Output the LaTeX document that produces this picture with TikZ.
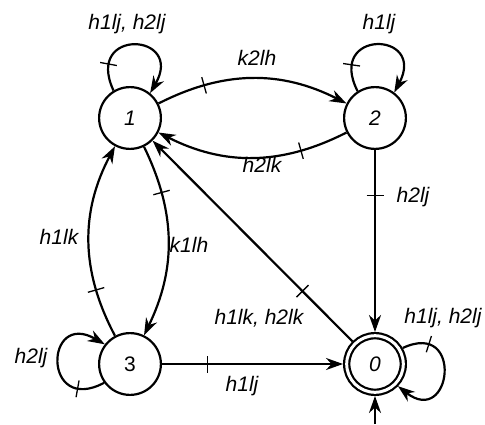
\documentclass[tikz,border=0pt]{standalone}
\usepackage{fontspec}
\setmainfont{Liberation Sans}
\usetikzlibrary{arrows.meta,decorations.markings}
\newcommand\labfont{\fontsize{21}{25}\selectfont\itshape}
\begin{document}
\begin{tikzpicture}[x=1pt,y=1pt,
  st/.style={draw,circle,line width=2.2pt,minimum size=61.8pt,inner sep=0pt,font=\labfont},
  acc/.style={st,double,double distance=3pt,minimum size=56.6pt,outer sep=3.7pt},
  lab/.style={font=\labfont,inner sep=1pt},
  tip/.style={-{Stealth[length=17pt,width=12pt,inset=5.5pt]}},
  edge/.style={line width=2.2pt,tip,
    postaction={decorate},
    decoration={markings,mark=at position #1 with {\draw[line width=1.3pt,-] (0,-8.5pt) -- (0,8.5pt);}}},
  edge/.default=0.25]
\useasboundingbox (0,0) rectangle (485,424);
\node[st] (n1) at (130,306) {1};
\node[st] (n2) at (375,306) {2};
\node[st,font=\fontsize{21}{25}\selectfont] (n3) at (130,60) {3};
\node[acc] (n0) at (375,60) {0};
\coordinate (init) at (375,0);
% edges
\draw[edge] (n1) to[bend left=27] (n2);
\draw[edge] (n2) to[bend left=27] (n1);
\draw[edge] (n1) to[bend left=26] (n3);
\draw[edge] (n3) to[bend left=28] (n1);
\draw[edge] (n2) -- (n0);
\draw[edge] (n0) -- (n1);
\draw[edge] (n3) -- (n0);
\draw[line width=2.2pt,tip] (init) -- (n0);
% loops
\draw[edge=0.22] (n1.121) .. controls +(115:70pt) and +(60:70pt) .. (n1.51);
\draw[edge=0.22] (n2.123) .. controls +(117:70pt) and +(62:70pt) .. (n2.53);
\draw[edge=0.22] (n3.216) .. controls +(208:70pt) and +(150:70pt) .. (n3.142);
\draw[edge=0.22] (n0.30) .. controls +(25:68pt) and +(-38:68pt) .. (n0.-44);
% labels
\node[lab] (l11) at (127,400) {h1lj, h2lj};
\node[lab] (l22) at (379,400) {h1lj};
\node[lab] (l12) at (257,366) {k2lh};
\node[lab] (l21) at (262,259) {h2lk};
\node[lab] (l20) at (413,227) {h2lj};
\node[lab] (l31) at (59,187) {h1lk};
\node[lab] (l13) at (189,179) {k1lh};
\node[lab] (l01) at (259,106) {h1lk, h2lk};
\node[lab] (l30) at (242,38) {h1lj};
\node[lab] (l33) at (31,66) {h2lj};
\node[lab] (l00) at (443,106) {h1lj, h2lj};
\end{tikzpicture}
\end{document}
